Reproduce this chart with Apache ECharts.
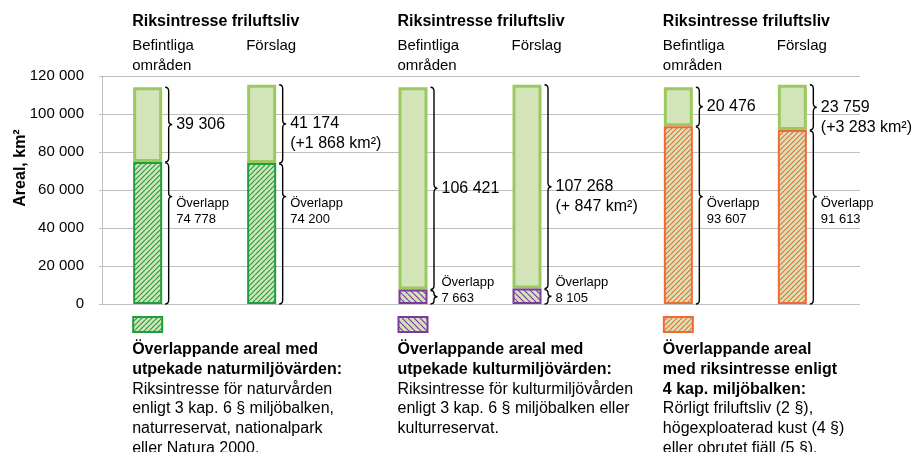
<!DOCTYPE html>
<html>
<head>
<meta charset="UTF-8">
<title>Riksintresse friluftsliv</title>
<script src="https://cdn.jsdelivr.net/npm/echarts@6/dist/echarts.min.js"></script>
<style>
  html, body { margin: 0; padding: 0; background: #fff; }
  #main { width: 915px; height: 452px; }
</style>
</head>
<body>
<div id="main"></div>
<script>
// areas in km2, one entry per group
var groups = ['natur', 'kultur', 'mb4kap'];
var overlapBef = [74778, 7663, 93607];
var restBef = [39306, 106421, 20476];
var overlapFor = [74200, 8105, 91613];
var restFor = [41174, 107268, 23759];
var diffFor = ['+1 868', '+ 847', '+3 283'];
var yTicks = [0, 20000, 40000, 60000, 80000, 100000, 120000];

var headTitle = 'Riksintresse friluftsliv';
var headBef = 'Befintliga\nområden';
var headFor = 'Förslag';
var legendBold = [
  'Överlappande areal med\nutpekade naturmiljövärden:',
  'Överlappande areal med\nutpekade kulturmiljövärden:',
  'Överlappande areal\nmed riksintresse enligt\n4 kap. miljöbalken:'
];
var legendText = [
  'Riksintresse för naturvården\nenligt 3 kap. 6 § miljöbalken,\nnaturreservat, nationalpark\neller Natura 2000.',
  'Riksintresse för kulturmiljövården\nenligt 3 kap. 6 § miljöbalken eller\nkulturreservat.',
  'Rörligt friluftsliv (2 §),\nhögexploaterad kust (4 §)\neller obrutet fjäll (5 §).'
];

// styles
var FONT = '"Liberation Sans", Arial, sans-serif';
var lightFill = '#d3e4b9';
var lightBorder = '#9cc95f';
var hatchColor = ['#1f9e3f', '#7b3a9e', '#ef6b35'];
var hatchDir = [1, -1, 1];
var barWidth = 29;
var barGapPx = 85;
var barOffset = (barWidth + barGapPx) / 2;
var overlapTip = 56500; // where the long "Överlapp" braces point

function fmt(v) {
  return String(v).replace(/\B(?=(\d{3})+(?!\d))/g, ' ');
}

function hatch(color, dir, size) {
  var c = document.createElement('canvas');
  c.width = c.height = size;
  var ctx = c.getContext('2d');
  ctx.fillStyle = lightFill;
  ctx.fillRect(0, 0, size, size);
  ctx.strokeStyle = color;
  ctx.lineWidth = 1.2;
  ctx.beginPath();
  for (var k = -1; k <= 1; k++) {
    if (dir > 0) { ctx.moveTo(k * size, size); ctx.lineTo(k * size + size, 0); }
    else { ctx.moveTo(k * size, 0); ctx.lineTo(k * size + size, size); }
  }
  ctx.stroke();
  return c;
}
var patterns = hatchColor.map(function (c, i) { return hatch(c, hatchDir[i], i == 1 ? 6 : 5); });

function overlapData(arr) {
  return arr.map(function (v, i) {
    return {
      value: v,
      itemStyle: { color: { image: patterns[i], repeat: 'repeat' }, borderColor: hatchColor[i], borderWidth: 2 }
    };
  });
}

function bracePath(x, ya, yb, yt, w) {
  var r = Math.min(4, (yt - ya) / 2, (yb - yt) / 2);
  var xm = x + w / 2;
  return 'M' + x + ' ' + ya + ' Q' + xm + ' ' + ya + ' ' + xm + ' ' + (ya + r) +
    ' L' + xm + ' ' + (yt - r) + ' Q' + xm + ' ' + yt + ' ' + (x + w) + ' ' + yt +
    ' Q' + xm + ' ' + yt + ' ' + xm + ' ' + (yt + r) +
    ' L' + xm + ' ' + (yb - r) + ' Q' + xm + ' ' + yb + ' ' + x + ' ' + yb;
}

function txt(text, x, y, size, weight, lh) {
  return {
    type: 'text',
    style: {
      text: text, x: x, y: y, fill: '#000',
      fontSize: size, fontFamily: FONT, fontWeight: weight || 'normal',
      lineHeight: lh || size + 4,
      align: 'left', verticalAlign: 'top', textAlign: 'left', textVerticalAlign: 'top'
    }
  };
}

function renderBraces(params, api) {
  var g = api.value(0), s = api.value(1);
  var ov = s ? overlapFor[g] : overlapBef[g];
  var rest = s ? restFor[g] : restBef[g];
  var base = api.coord([g, 0]);
  var cx = base[0] + (s ? 1 : -1) * barOffset;
  var y0 = base[1];
  var y1 = api.coord([g, ov])[1];
  var y2 = api.coord([g, ov + rest])[1];
  var w = 7;
  var bx = cx + barWidth / 2 + 3;
  var tipTop = (y1 + y2) / 2;
  var small = (y0 - y1) < 40;
  var tipBot = small ? (y0 + y1) / 2 : api.coord([g, overlapTip])[1];
  var line = { stroke: '#000', fill: 'none', lineWidth: 1.4 };

  var topText = fmt(rest) + (s ? '\n(' + diffFor[g] + ' km²)' : '');
  var ovText = 'Överlapp\n' + fmt(ov);
  var ovY = small ? tipBot - 16 - 6 : tipBot + 7 - 8;

  return {
    type: 'group',
    children: [
      { type: 'path', shape: { pathData: bracePath(bx, y2, y1, tipTop, w) }, style: line },
      { type: 'path', shape: { pathData: bracePath(bx, y1 + 1, y0, tipBot, w) }, style: line },
      txt(topText, bx + w + 4, tipTop - 10, 16, 'normal', 20),
      txt(ovText, bx + w + 4, ovY, 13, 'normal', 16)
    ]
  };
}

function renderGroups(params, api) {
  var g = api.value(0);
  var base = api.coord([g, 0]);
  var befLeft = base[0] - barOffset - barWidth / 2 - 1;
  var forLeft = base[0] + barOffset - barWidth / 2 - 1;
  var y0 = base[1];
  var boldLines = legendBold[g].split('\n').length;
  return {
    type: 'group',
    children: [
      txt(headTitle, befLeft, 12, 16, 'bold', 20),
      txt(headBef, befLeft, 36, 15, 'normal', 20),
      txt(headFor, forLeft, 36, 15, 'normal', 20),
      {
        type: 'rect',
        shape: { x: befLeft + 1, y: y0 + 13, width: 29, height: 15 },
        style: { fill: { image: patterns[g], repeat: 'repeat' }, stroke: hatchColor[g], lineWidth: 2 }
      },
      txt(legendBold[g], befLeft, y0 + 36, 16, 'bold', 19.7),
      txt(legendText[g], befLeft, y0 + 36 + boldLines * 19.7, 16, 'normal', 19.7)
    ]
  };
}

var chart = echarts.init(document.getElementById('main'), null, { renderer: 'canvas' });

var option = {
  animation: false,
  backgroundColor: '#fff',
  textStyle: { fontFamily: FONT },
  grid: [
    { left: 102, right: 55, top: 76, bottom: 148 },
    { left: 72, right: 47, top: 76, bottom: 148 }
  ],
  xAxis: [
    { gridIndex: 0, type: 'value', min: 0, max: 1, show: false },
    { gridIndex: 1, type: 'category', data: groups, show: false }
  ],
  yAxis: [
    {
      gridIndex: 0, type: 'value', min: yTicks[0], max: yTicks[yTicks.length - 1],
      interval: yTicks[1] - yTicks[0],
      axisLine: { show: true, lineStyle: { color: '#bfbfbf', width: 1 } },
      axisTick: { show: true, length: 3, lineStyle: { color: '#bfbfbf' } },
      splitLine: { lineStyle: { color: '#bfbfbf', width: 1 } },
      axisLabel: { color: '#000', fontSize: 15, fontFamily: FONT, margin: 18, formatter: fmt }
    },
    { gridIndex: 1, type: 'value', min: yTicks[0], max: yTicks[yTicks.length - 1], show: false }
  ],
  graphic: [
    {
      type: 'text', x: 21, y: 168, rotation: Math.PI / 2,
      style: {
        text: 'Areal, km²', fill: '#000', fontSize: 16, fontWeight: 'bold', fontFamily: FONT,
        align: 'center', verticalAlign: 'middle', textAlign: 'center', textVerticalAlign: 'middle'
      }
    }
  ],
  series: [
    {
      name: 'Befintliga överlapp', type: 'bar', stack: 'bef', xAxisIndex: 1, yAxisIndex: 1,
      barWidth: barWidth, barGap: (barGapPx / barWidth * 100) + '%', z: 3,
      data: overlapData(overlapBef)
    },
    {
      name: 'Befintliga övrigt', type: 'bar', stack: 'bef', xAxisIndex: 1, yAxisIndex: 1,
      barWidth: barWidth, z: 2,
      itemStyle: { color: lightFill, borderColor: lightBorder, borderWidth: 3 },
      data: restBef
    },
    {
      name: 'Förslag överlapp', type: 'bar', stack: 'for', xAxisIndex: 1, yAxisIndex: 1,
      barWidth: barWidth, barGap: (barGapPx / barWidth * 100) + '%', z: 3,
      data: overlapData(overlapFor)
    },
    {
      name: 'Förslag övrigt', type: 'bar', stack: 'for', xAxisIndex: 1, yAxisIndex: 1,
      barWidth: barWidth, z: 2,
      itemStyle: { color: lightFill, borderColor: lightBorder, borderWidth: 3 },
      data: restFor
    },
    {
      name: 'klamrar', type: 'custom', xAxisIndex: 1, yAxisIndex: 1, z: 5, silent: true,
      renderItem: renderBraces,
      data: [[0, 0], [0, 1], [1, 0], [1, 1], [2, 0], [2, 1]]
    },
    {
      name: 'rubriker', type: 'custom', xAxisIndex: 1, yAxisIndex: 1, z: 5, silent: true,
      renderItem: renderGroups,
      data: [[0], [1], [2]]
    }
  ]
};

chart.setOption(option);
</script>
</body>
</html>
